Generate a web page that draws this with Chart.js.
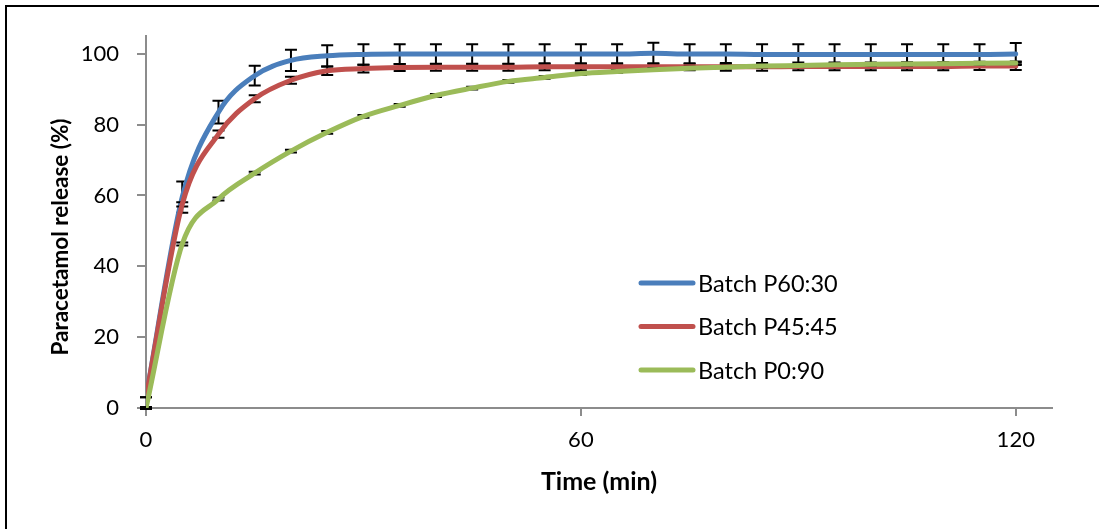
<!DOCTYPE html>
<html>
<head>
<meta charset="utf-8">
<script src="https://cdn.jsdelivr.net/npm/chart.js@4.4.1/dist/chart.umd.min.js"></script>
<style>
  html, body { margin: 0; padding: 0; background: #fff; overflow: hidden; }
  #wrap { position: absolute; left: 0; top: 0; width: 1099px; height: 529px; }
  #frame { position: absolute; left: 5px; top: 5px; width: 1200px; height: 700px; border: 2px solid #000; pointer-events: none; }
</style>
</head>
<body>
<div id="wrap"><canvas id="c" width="1099" height="529"></canvas></div>
<div id="frame"></div>
<script>
const times = [0,5,10,15,20,25,30,35,40,45,50,55,60,65,70,75,80,85,90,95,100,105,110,115,120];
const seriesNames = ['Batch P60:30', 'Batch P45:45', 'Batch P0:90'];
const p6030 = [3, 59.5, 83.5, 93.8, 98.1, 99.4, 99.8, 99.9, 99.9, 99.9, 99.9, 99.9, 99.9, 99.9, 100.1, 99.9, 99.9, 99.8, 99.8, 99.8, 99.8, 99.8, 99.8, 99.8, 99.9];
const p6030sd = [0, 4.4, 3.2, 2.8, 3, 3, 2.9, 2.8, 2.8, 2.8, 2.8, 2.8, 2.8, 2.8, 3, 2.8, 2.8, 2.9, 2.9, 2.9, 2.9, 2.9, 2.9, 2.9, 3.1];
const p4545 = [3, 57.5, 77.3, 87.3, 92.5, 95.2, 95.8, 96.1, 96.2, 96.2, 96.2, 96.3, 96.3, 96.3, 96.3, 96.3, 96.3, 96.3, 96.4, 96.4, 96.4, 96.4, 96.4, 96.5, 96.5];
const p4545sd = [0, 0.6, 1, 1, 1, 1.2, 1.1, 1, 1, 1, 1, 1, 1, 1, 1, 1, 1.1, 1.1, 1.1, 1.1, 1.1, 1.1, 1.1, 1.1, 1.1];
const p090 = [0, 46.3, 59, 66.3, 72.5, 77.8, 82.3, 85.4, 88.2, 90.3, 92.2, 93.3, 94.4, 95, 95.5, 95.9, 96.2, 96.5, 96.7, 96.9, 97, 97.1, 97.2, 97.3, 97.4];
const p090sd = [0.3, 0.4, 0.4, 0.4, 0.4, 0.4, 0.4, 0.4, 0.4, 0.4, 0.4, 0.4, 0.4, 0.4, 0.4, 0.4, 0.4, 0.4, 0.4, 0.4, 0.4, 0.4, 0.4, 0.4, 0.4];
const yTicks = [0, 20, 40, 60, 80, 100];
const xTicks = [0, 60, 120];
const xTitle = 'Time (min)';
const yTitle = 'Paracetamol release (%)';
const colors = ['#4A7EBB', '#C0504D', '#9BBB59'];

const FONT = 'Lato, "Noto Sans", sans-serif';
const toXY = (vals) => vals.map((v, i) => ({x: times[i], y: v}));

const errorBars = {
  id: 'errorBars',
  beforeDatasetDraw(chart, args) {
    const ds = chart.data.datasets[args.index];
    const meta = args.meta;
    const ys = chart.scales.y;
    const ctx = chart.ctx;
    ctx.save();
    ctx.strokeStyle = '#000';
    ctx.lineWidth = 2;
    meta.data.forEach((pt, i) => {
      const v = ds.data[i].y, e = ds.sd[i];
      const x = pt.x;
      const y1 = ys.getPixelForValue(v + e), y2 = ys.getPixelForValue(v - e);
      ctx.beginPath();
      ctx.moveTo(x, y1); ctx.lineTo(x, y2);
      ctx.moveTo(x - 6, y1); ctx.lineTo(x + 6, y1);
      ctx.moveTo(x - 6, y2); ctx.lineTo(x + 6, y2);
      ctx.stroke();
    });
    ctx.restore();
  }
};

const customText = {
  id: 'customText',
  afterDraw(chart) {
    const ctx = chart.ctx;
    ctx.save();
    const rows = [283, 326.5, 370];
    chart.data.datasets.forEach((ds, i) => {
      ctx.strokeStyle = ds.borderColor;
      ctx.lineWidth = 5;
      ctx.lineCap = 'round';
      ctx.beginPath();
      ctx.moveTo(641, rows[i]); ctx.lineTo(693, rows[i]);
      ctx.stroke();
      ctx.fillStyle = '#000';
      ctx.font = '23.5px ' + FONT;
      ctx.textBaseline = 'middle';
      ctx.textAlign = 'left';
      ctx.fillText(ds.label, 698, rows[i] + 1);
    });
    // y axis title
    ctx.translate(61, 237);
    ctx.rotate(-Math.PI / 2);
    ctx.font = 'bold 22.5px ' + FONT;
    ctx.textAlign = 'center';
    ctx.textBaseline = 'middle';
    ctx.fillStyle = '#000';
    ctx.fillText(yTitle, 0, 0);
    ctx.restore();
  }
};

new Chart(document.getElementById('c'), {
  type: 'line',
  data: {
    datasets: [
      {label: seriesNames[0], data: toXY(p6030), sd: p6030sd, borderColor: colors[0], order: 3},
      {label: seriesNames[1], data: toXY(p4545), sd: p4545sd, borderColor: colors[1], order: 2},
      {label: seriesNames[2], data: toXY(p090), sd: p090sd, borderColor: colors[2], order: 1}
    ].map(d => Object.assign(d, {borderWidth: 5, pointRadius: 0, fill: false, cubicInterpolationMode: 'monotone', borderCapStyle: 'round'}))
  },
  options: {
    responsive: false,
    animation: false,
    devicePixelRatio: 1,
    layout: {padding: {left: 0, top: 36, right: 47, bottom: 0}},
    plugins: {legend: {display: false}, tooltip: {enabled: false}},
    scales: {
      x: {
        type: 'linear', min: 0, max: 125,
        afterBuildTicks: s => { s.ticks = xTicks.map(v => ({value: v})); },
        afterFit: s => { s.height = 121; },
        grid: {drawOnChartArea: false, color: '#8c8c8c', tickLength: 8, lineWidth: 2},
        border: {color: '#8c8c8c', width: 2},
        ticks: {color: '#000', font: {family: FONT, size: 22}, padding: 11, maxRotation: 0},
        title: {display: true, text: xTitle, color: '#000', font: {family: FONT, size: 25, weight: 'bold'}, padding: {top: 0, bottom: 32}}
      },
      y: {
        type: 'linear', min: 0, max: 105,
        afterBuildTicks: s => { s.ticks = yTicks.map(v => ({value: v})); },
        afterFit: s => { s.width = 146; },
        grid: {drawOnChartArea: false, color: '#8c8c8c', tickLength: 9, lineWidth: 2},
        border: {color: '#8c8c8c', width: 2},
        ticks: {color: '#000', font: {family: FONT, size: 22}, padding: 18},
        title: {display: false}
      }
    }
  },
  plugins: [errorBars, customText]
});
</script>
</body>
</html>
